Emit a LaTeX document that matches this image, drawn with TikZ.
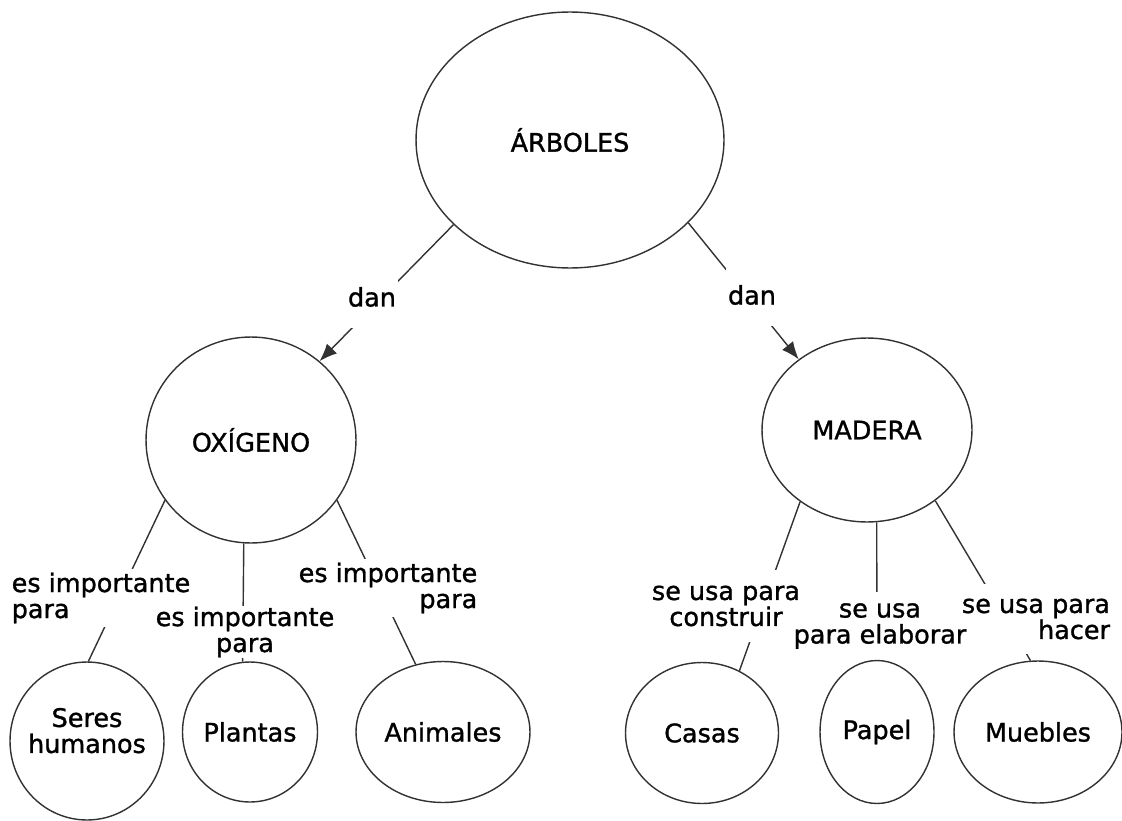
\documentclass[tikz,border=0pt]{standalone}
\usepackage{fontspec}
\setmainfont{DejaVu Sans}[FakeBold=1.2]
\usetikzlibrary{shapes.geometric, arrows.meta}
\definecolor{inkline}{RGB}{50,50,50}
\pgfdeclarelayer{background}
\pgfsetlayers{background,main}
\tikzset{
  concept/.style 2 args={ellipse, draw=inkline, line width=0.8pt, inner sep=0pt, minimum width=#1cm, minimum height=#2cm, align=center},
  linkword/.style={inner xsep=1pt, inner ysep=#1, align=center},
  linkword/.default=2pt,
  relation/.style={draw=inkline, line width=0.8pt},
}

\begin{document}
\begin{tikzpicture}[x=0.02cm, y=-0.02cm, font=\fontsize{14.5pt}{14.8pt}\selectfont]
\useasboundingbox (0,0) rectangle (1122,821);

% Concepts
\node[concept={6.16}{5.12}] (arboles) at (570,140) {ÁRBOLES};
\node[concept={4.2}{4.12}] (oxigeno) at (251,440) {OXÍGENO};
\node[concept={4.2}{3.68}] (madera) at (867,430) {MADERA};

\node[concept={3.08}{3.16}, inner xsep=-6pt, text depth=12pt] (seres) at (87,741) {Seres\\humanos};
\node[concept={2.7}{2.8}] (plantas) at (250,732) {Plantas};
\node[concept={3.48}{2.82}] (animales) at (443,732) {Animales};
\node[concept={3.06}{2.82}] (casas) at (702,733) {Casas};
\node[concept={2.28}{2.86}] (papel) at (877,732) {Papel};
\node[concept={3.36}{2.84}] (muebles) at (1038,732) {Muebles};

% Linking phrases
\node[linkword=12pt] (danL) at (372,297) {dan};
\node[linkword=12pt] (danR) at (752,295) {dan};

\node[linkword, align=left] (esL) at (101,598) {es importante\\para};
\node[linkword=0pt] (esM) at (245,632) {es importante\\para};
\node[linkword, align=right] (esR) at (388,588) {es importante\\para};

\node[linkword=9pt] (seL) at (726,606) {se usa para\\construir};
\node[linkword=6pt] (seM) at (880,626) {se usa\\para elaborar};
\node[linkword=8pt, align=right] (seR) at (1036,619) {se usa para\\hacer};

% Links, broken behind the phrases
\begin{pgfonlayer}{background}
\draw[relation, -{Latex[length=10pt, width=8pt]}] (arboles.216) -- (oxigeno.49);
\draw[relation, -{Latex[length=10pt, width=8pt]}] (arboles.325) -- (madera.134);
\draw[relation] (oxigeno.215) -- (seres.89);
\draw[relation] (oxigeno.266) -- (plantas.96);
\draw[relation] (oxigeno.325) -- (animales.112);
\draw[relation] (madera.227) -- (casas.59);
\draw[relation] (madera.276) -- (papel.90);
\draw[relation] (madera.314) -- (muebles.96);
\foreach \w in {danL,danR,esL,esM,esR,seL,seM,seR}
  \fill[white] (\w.south west) rectangle (\w.north east);
\end{pgfonlayer}
\end{tikzpicture}
\end{document}
